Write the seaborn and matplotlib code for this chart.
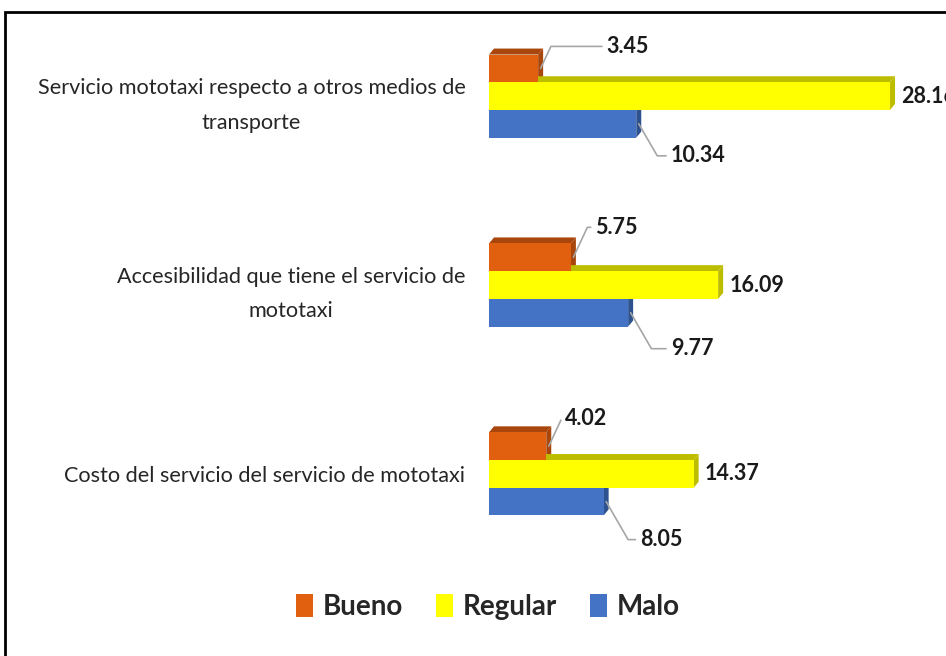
import pandas as pd
import seaborn as sns
import matplotlib.pyplot as plt
from matplotlib.patches import Polygon, Rectangle

# data
aspectos = ['Servicio mototaxi respecto a otros medios de\ntransporte',
            'Accesibilidad que tiene el servicio de\nmototaxi',
            'Costo del servicio del servicio de mototaxi']
bueno = [3.45, 5.75, 4.02]
regular = [28.16, 16.09, 14.37]
malo = [10.34, 9.77, 8.05]
niveles = ['Bueno', 'Regular', 'Malo']

df = pd.DataFrame({
    'aspecto': aspectos * 3,
    'nivel': ['Bueno'] * 3 + ['Regular'] * 3 + ['Malo'] * 3,
    'valor': bueno + regular + malo,
})

colores = {'Bueno': '#E0600F', 'Regular': '#FFFF00', 'Malo': '#4472C4'}
sombras = {'Bueno': '#A8460C', 'Regular': '#BDBD00', 'Malo': '#2E5290'}
# label offsets (pixels) for the callouts, per category
off_bueno = [(66, 22), (22, 30), (16, 28)]
off_malo = [(32, -32), (40, -36), (34, -38)]

sns.set_style('white')
plt.rcParams['font.family'] = ['Lato', 'DejaVu Sans']

fig = plt.figure(figsize=(9.46, 6.56), dpi=100)
ax = fig.add_axes([489 / 946, 1 - 540 / 656, 457 / 946, 510 / 656])

sns.barplot(data=df, x='valor', y='aspecto', hue='nivel', hue_order=niveles,
            palette=colores, orient='h', width=0.44, saturation=1,
            linewidth=0, ax=ax, zorder=3)

ax.set_xlim(0, 32.09)
ax.set_ylim(2.35, -0.35)

# fake 3D depth (top and right faces) following each bar
dx = 5 / 14.24
dy = 6 / 189
for cont, nivel in zip(ax.containers, niveles):
    for p in cont:
        x1 = p.get_width()
        y0 = p.get_y()
        y1 = y0 + p.get_height()
        top = Polygon([(0, y0), (x1, y0), (x1 + dx, y0 - dy), (dx, y0 - dy)],
                      closed=True, facecolor=sombras[nivel], lw=0, zorder=2)
        side = Polygon([(x1, y0), (x1 + dx, y0 - dy), (x1 + dx, y1 - dy), (x1, y1)],
                       closed=True, facecolor=sombras[nivel], lw=0, zorder=2)
        ax.add_patch(top)
        ax.add_patch(side)

# value labels with leader lines
lab_kw = dict(fontsize=15.5, fontweight='bold', color='#1A1A1A',
              textcoords='offset pixels', ha='left', va='center')
line_kw = dict(arrowstyle='-', color='#A6A6A6', lw=1.2, shrinkA=1, shrinkB=0,
               relpos=(0, 0.5))
for cont, nivel in zip(ax.containers, niveles):
    for i, p in enumerate(cont):
        v = p.get_width()
        yc = p.get_y() + p.get_height() / 2
        if nivel == 'Bueno':
            ax.annotate(f'{v:.2f}', xy=(v + dx * 0.5, yc), xytext=off_bueno[i],
                        arrowprops=dict(connectionstyle='angle,angleA=0,angleB=65', **line_kw),
                        **lab_kw)
        elif nivel == 'Malo':
            ax.annotate(f'{v:.2f}', xy=(v + dx * 0.5, yc), xytext=off_malo[i],
                        arrowprops=dict(connectionstyle='angle,angleA=0,angleB=-60', **line_kw),
                        **lab_kw)
        else:
            ax.annotate(f'{v:.2f}', xy=(v + dx, yc), xytext=(6, 0), **lab_kw)

ax.set_xlabel('')
ax.set_ylabel('')
ax.set_xticks([])
ax.tick_params(axis='y', length=0, pad=17, labelsize=15.6, labelcolor='#262626')
for t in ax.get_yticklabels():
    t.set_multialignment('center')
    t.set_linespacing(1.9)
sns.despine(ax=ax, left=True, bottom=True)

handles, labels = ax.get_legend_handles_labels()
ax.legend_.remove()
leg = fig.legend(handles, labels, loc='center', bbox_to_anchor=(488 / 946, 1 - 607 / 656),
                 ncol=3, frameon=False, handlelength=0.6, handleheight=0.9,
                 handletextpad=0.35, columnspacing=1.2,
                 prop={'size': 20, 'weight': 'bold'})

# outer frame of the original picture
fig.add_artist(Rectangle((5 / 946, -0.2), 1.2, 1.2 - 12 / 656, fill=False,
                         edgecolor='black', lw=2, transform=fig.transFigure,
                         clip_on=False))

plt.savefig('out.png', dpi=100)
